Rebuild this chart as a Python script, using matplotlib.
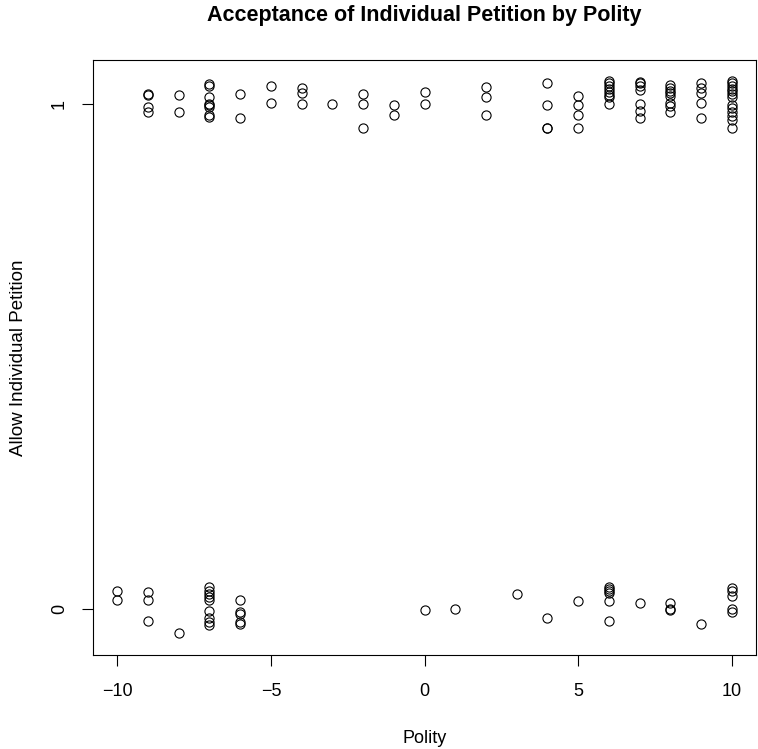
import matplotlib
matplotlib.use("Agg")
import matplotlib.pyplot as plt

plt.rcParams['font.family'] = ['Liberation Sans', 'DejaVu Sans']

# Polity score (x) and jittered "allow individual petition" (y)
polity_allow = [-9]*4 + [-8]*2 + [-7]*8 + [-6]*2 + [-5]*2 + [-4]*3 + [-3] + [-2]*3 + [-1]*2 + [0]*2 \
    + [2]*3 + [4]*4 + [5]*4 + [6]*8 + [7]*7 + [8]*8 + [9]*5 + [10]*13
allow_jit = [1.020, 1.018, 0.994, 0.985,
             1.018, 0.984,
             1.040, 1.036, 1.013, 1.000, 0.997, 0.993, 0.978, 0.975,
             1.019, 0.972,
             1.036, 1.001,
             1.032, 1.021, 0.999,
             0.999,
             1.020, 0.999, 0.953,
             0.997, 0.978,
             1.024, 0.999,
             1.033, 1.013, 0.978,
             1.042, 0.997, 0.953, 0.952,
             1.016, 0.997, 0.978, 0.953,
             1.046, 1.042, 1.036, 1.030, 1.024, 1.018, 1.013, 0.999,
             1.043, 1.041, 1.036, 1.028, 0.999, 0.987, 0.972,
             1.038, 1.032, 1.026, 1.021, 1.016, 1.001, 0.996, 0.985,
             1.042, 1.031, 1.021, 1.001, 0.972,
             1.046, 1.041, 1.036, 1.030, 1.025, 1.020, 1.013, 0.998, 0.991, 0.985, 0.976, 0.968, 0.953]

polity_deny = [-10]*2 + [-9]*3 + [-8] + [-7]*9 + [-6]*5 + [0] + [1] + [3] + [4] + [5] \
    + [6]*6 + [7] + [8]*3 + [9] + [10]*5
deny_jit = [0.036, 0.018,
            0.034, 0.018, -0.024,
            -0.048,
            0.043, 0.036, 0.030, 0.024, 0.018, -0.003, -0.018, -0.025, -0.032,
            0.018, -0.005, -0.009, -0.025, -0.030,
            -0.002,
            0.000,
            0.030,
            -0.017,
            0.016,
            0.043, 0.039, 0.035, 0.031, 0.016, -0.024,
            0.011,
            0.012, 0.001, -0.001,
            -0.030,
            0.041, 0.036, 0.026, 0.000, -0.005]

x_ticks = [-10, -5, 0, 5, 10]
x_tick_labels = ['\u221210', '\u22125', '0', '5', '10']
y_ticks = [0, 1]
y_tick_labels = ['0', '1']

W, H = 758, 749
fig = plt.figure(figsize=(W/100, H/100), dpi=100)
L, R, T, B = 93, 756, 60, 655
ax = fig.add_axes([L/W, 1-B/H, (R-L)/W, (B-T)/H])

ax.plot(polity_allow + polity_deny, allow_jit + deny_jit, linestyle='none', marker='o',
        markersize=6.6, markerfacecolor='none', markeredgecolor='black', markeredgewidth=0.8)

ax.set_xlim(-10.79, 10.79)
ax.set_ylim(-0.091, 1.087)
ax.set_xticks(x_ticks)
ax.set_xticklabels(x_tick_labels)
ax.set_yticks(y_ticks)
ax.set_yticklabels(y_tick_labels, rotation=90, va='center')
ax.tick_params(direction='out', length=8, width=0.8, labelsize=13, colors='black')
ax.tick_params(axis='x', pad=12)
ax.tick_params(axis='y', pad=10)
for s in ax.spines.values():
    s.set_linewidth(0.8)
    s.set_color('black')

fig.text((L+R)/2/W, 1-21/H, 'Acceptance of Individual Petition by Polity',
         ha='center', va='baseline', fontsize=15.5, fontweight='bold')
fig.text((L+R)/2/W, 1-743/H, 'Polity', ha='center', va='baseline', fontsize=13)
fig.text(19/W, 1-(T+B)/2/H, 'Allow Individual Petition', ha='center', va='center',
         rotation=90, fontsize=13.5)

fig.savefig('out.png', dpi=100)
